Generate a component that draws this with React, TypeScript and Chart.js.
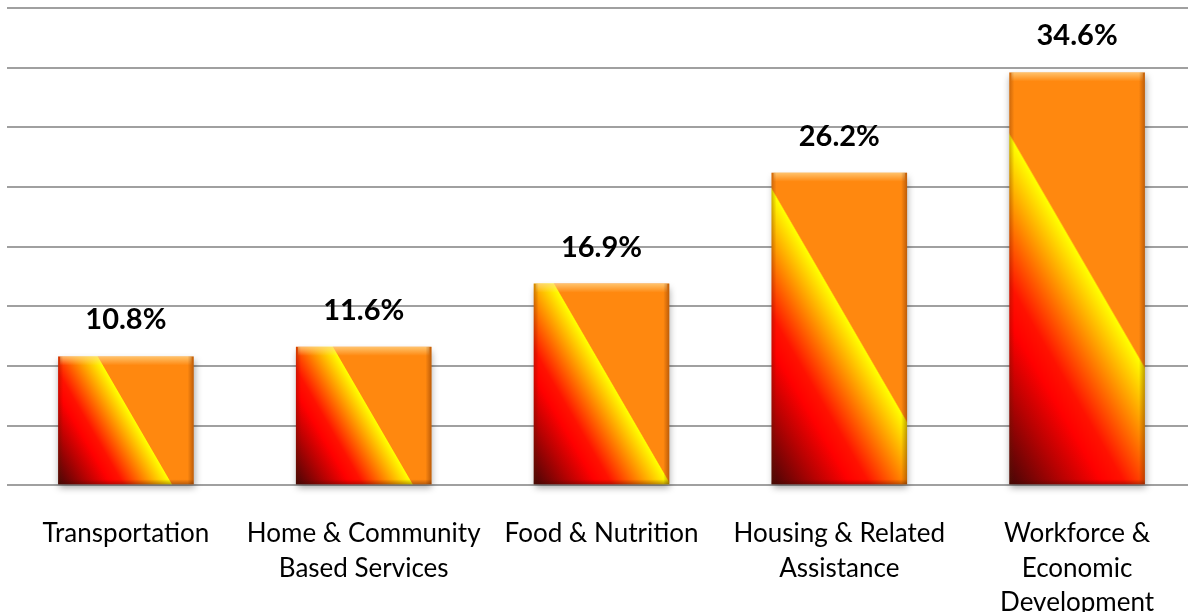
import React, { useEffect, useRef } from 'react';
import { Chart, registerables } from 'chart.js';

Chart.register(...registerables);

const categories: string[][] = [
  ['Transportation'],
  ['Home & Community', 'Based Services'],
  ['Food & Nutrition'],
  ['Housing & Related', 'Assistance'],
  ['Workforce &', 'Economic', 'Development'],
];
const shares: number[] = [10.8, 11.6, 16.9, 26.2, 34.6];
const yMin = 0;
const yMax = 40;
const yStep = 5;

const SLOPE = 0.58;

const barStyle: any = {
  id: 'barStyle',
  beforeDatasetsDraw(chart: any) {
    const ctx = chart.ctx as CanvasRenderingContext2D;
    const meta = chart.getDatasetMeta(0);
    meta.data.forEach((el: any) => {
      const w = el.width;
      const x0 = el.x - w / 2;
      const y0 = el.base;
      const h = el.base - el.y;
      const t = (w + SLOPE * h) / (1 + SLOPE * SLOPE);
      const g = ctx.createLinearGradient(x0, y0, x0 + t, y0 - SLOPE * t);
      g.addColorStop(0, '#460606');
      g.addColorStop(0.15, '#b80202');
      g.addColorStop(0.25, '#ff0000');
      g.addColorStop(0.31, '#ff1200');
      g.addColorStop(0.54, '#ffff00');
      g.addColorStop(0.545, '#ff880f');
      g.addColorStop(1, '#ff880f');
      el.options.backgroundColor = g;
    });
    ctx.save();
    ctx.shadowColor = 'rgba(0,0,0,0.35)';
    ctx.shadowBlur = 7;
    ctx.shadowOffsetX = 1;
    ctx.shadowOffsetY = 4;
  },
  afterDatasetsDraw(chart: any) {
    const ctx = chart.ctx as CanvasRenderingContext2D;
    ctx.restore();
    const meta = chart.getDatasetMeta(0);
    meta.data.forEach((el: any, i: number) => {
      const w = el.width;
      const x0 = el.x - w / 2;
      const x1 = el.x + w / 2;
      const top = el.y;
      const base = el.base;
      ctx.save();
      const gt = ctx.createLinearGradient(0, top, 0, top + 9);
      gt.addColorStop(0, 'rgba(255,215,140,0.75)');
      gt.addColorStop(1, 'rgba(255,215,140,0)');
      ctx.fillStyle = gt;
      ctx.fillRect(x0 + 2, top, w - 4, 9);
      const gr = ctx.createLinearGradient(x1, 0, x1 - 6, 0);
      gr.addColorStop(0, 'rgba(110,40,0,0.45)');
      gr.addColorStop(1, 'rgba(110,40,0,0)');
      ctx.fillStyle = gr;
      ctx.fillRect(x1 - 6, top, 6, base - top);
      const gl = ctx.createLinearGradient(x0, 0, x0 + 5, 0);
      gl.addColorStop(0, 'rgba(90,30,0,0.3)');
      gl.addColorStop(1, 'rgba(90,30,0,0)');
      ctx.fillStyle = gl;
      ctx.fillRect(x0, top, 5, base - top);
      const gb = ctx.createLinearGradient(0, base, 0, base - 5);
      gb.addColorStop(0, 'rgba(60,10,0,0.35)');
      gb.addColorStop(1, 'rgba(60,10,0,0)');
      ctx.fillStyle = gb;
      ctx.fillRect(x0, base - 5, w, 5);
      ctx.fillStyle = '#000000';
      ctx.font = 'bold 29px Lato, "Open Sans", sans-serif';
      ctx.textAlign = 'center';
      ctx.textBaseline = 'alphabetic';
      ctx.fillText(`${shares[i].toFixed(1)}%`, el.x, top - 27);
      ctx.restore();
    });
  },
};

export default function App() {
  const ref = useRef<HTMLCanvasElement>(null);
  useEffect(() => {
    document.body.style.margin = '0';
    document.body.style.overflow = 'hidden';
    const chart = new Chart(ref.current as HTMLCanvasElement, {
      type: 'bar',
      data: {
        labels: categories,
        datasets: [
          {
            data: shares,
            backgroundColor: () => '#ff880f',
            borderWidth: 0,
            barPercentage: 0.57,
            categoryPercentage: 1,
            clip: false as any,
          },
        ],
      },
      options: {
        responsive: false,
        animation: false,
        layout: { padding: { left: 7, top: 8, right: 0, bottom: 0 } },
        plugins: {
          legend: { display: false },
          tooltip: { enabled: false },
        },
        scales: {
          x: {
            grid: { display: false, drawTicks: false },
            border: { display: false },
            ticks: {
              color: '#000000',
              font: { family: 'Lato', size: 26, lineHeight: 1.33 },
              padding: 31,
              maxRotation: 0,
              autoSkip: false,
            },
          },
          y: {
            min: yMin,
            max: yMax,
            grid: { color: '#a0a0a0', lineWidth: 2, drawTicks: false },
            border: { display: false },
            ticks: { display: false, stepSize: yStep },
          },
        },
      },
      plugins: [barStyle],
    });
    return () => chart.destroy();
  }, []);
  return (
    <div style={{ width: 1196, height: 651, overflow: 'hidden' }}>
      <canvas ref={ref} width={1196} height={651} style={{ display: 'block' }} />
    </div>
  );
}
